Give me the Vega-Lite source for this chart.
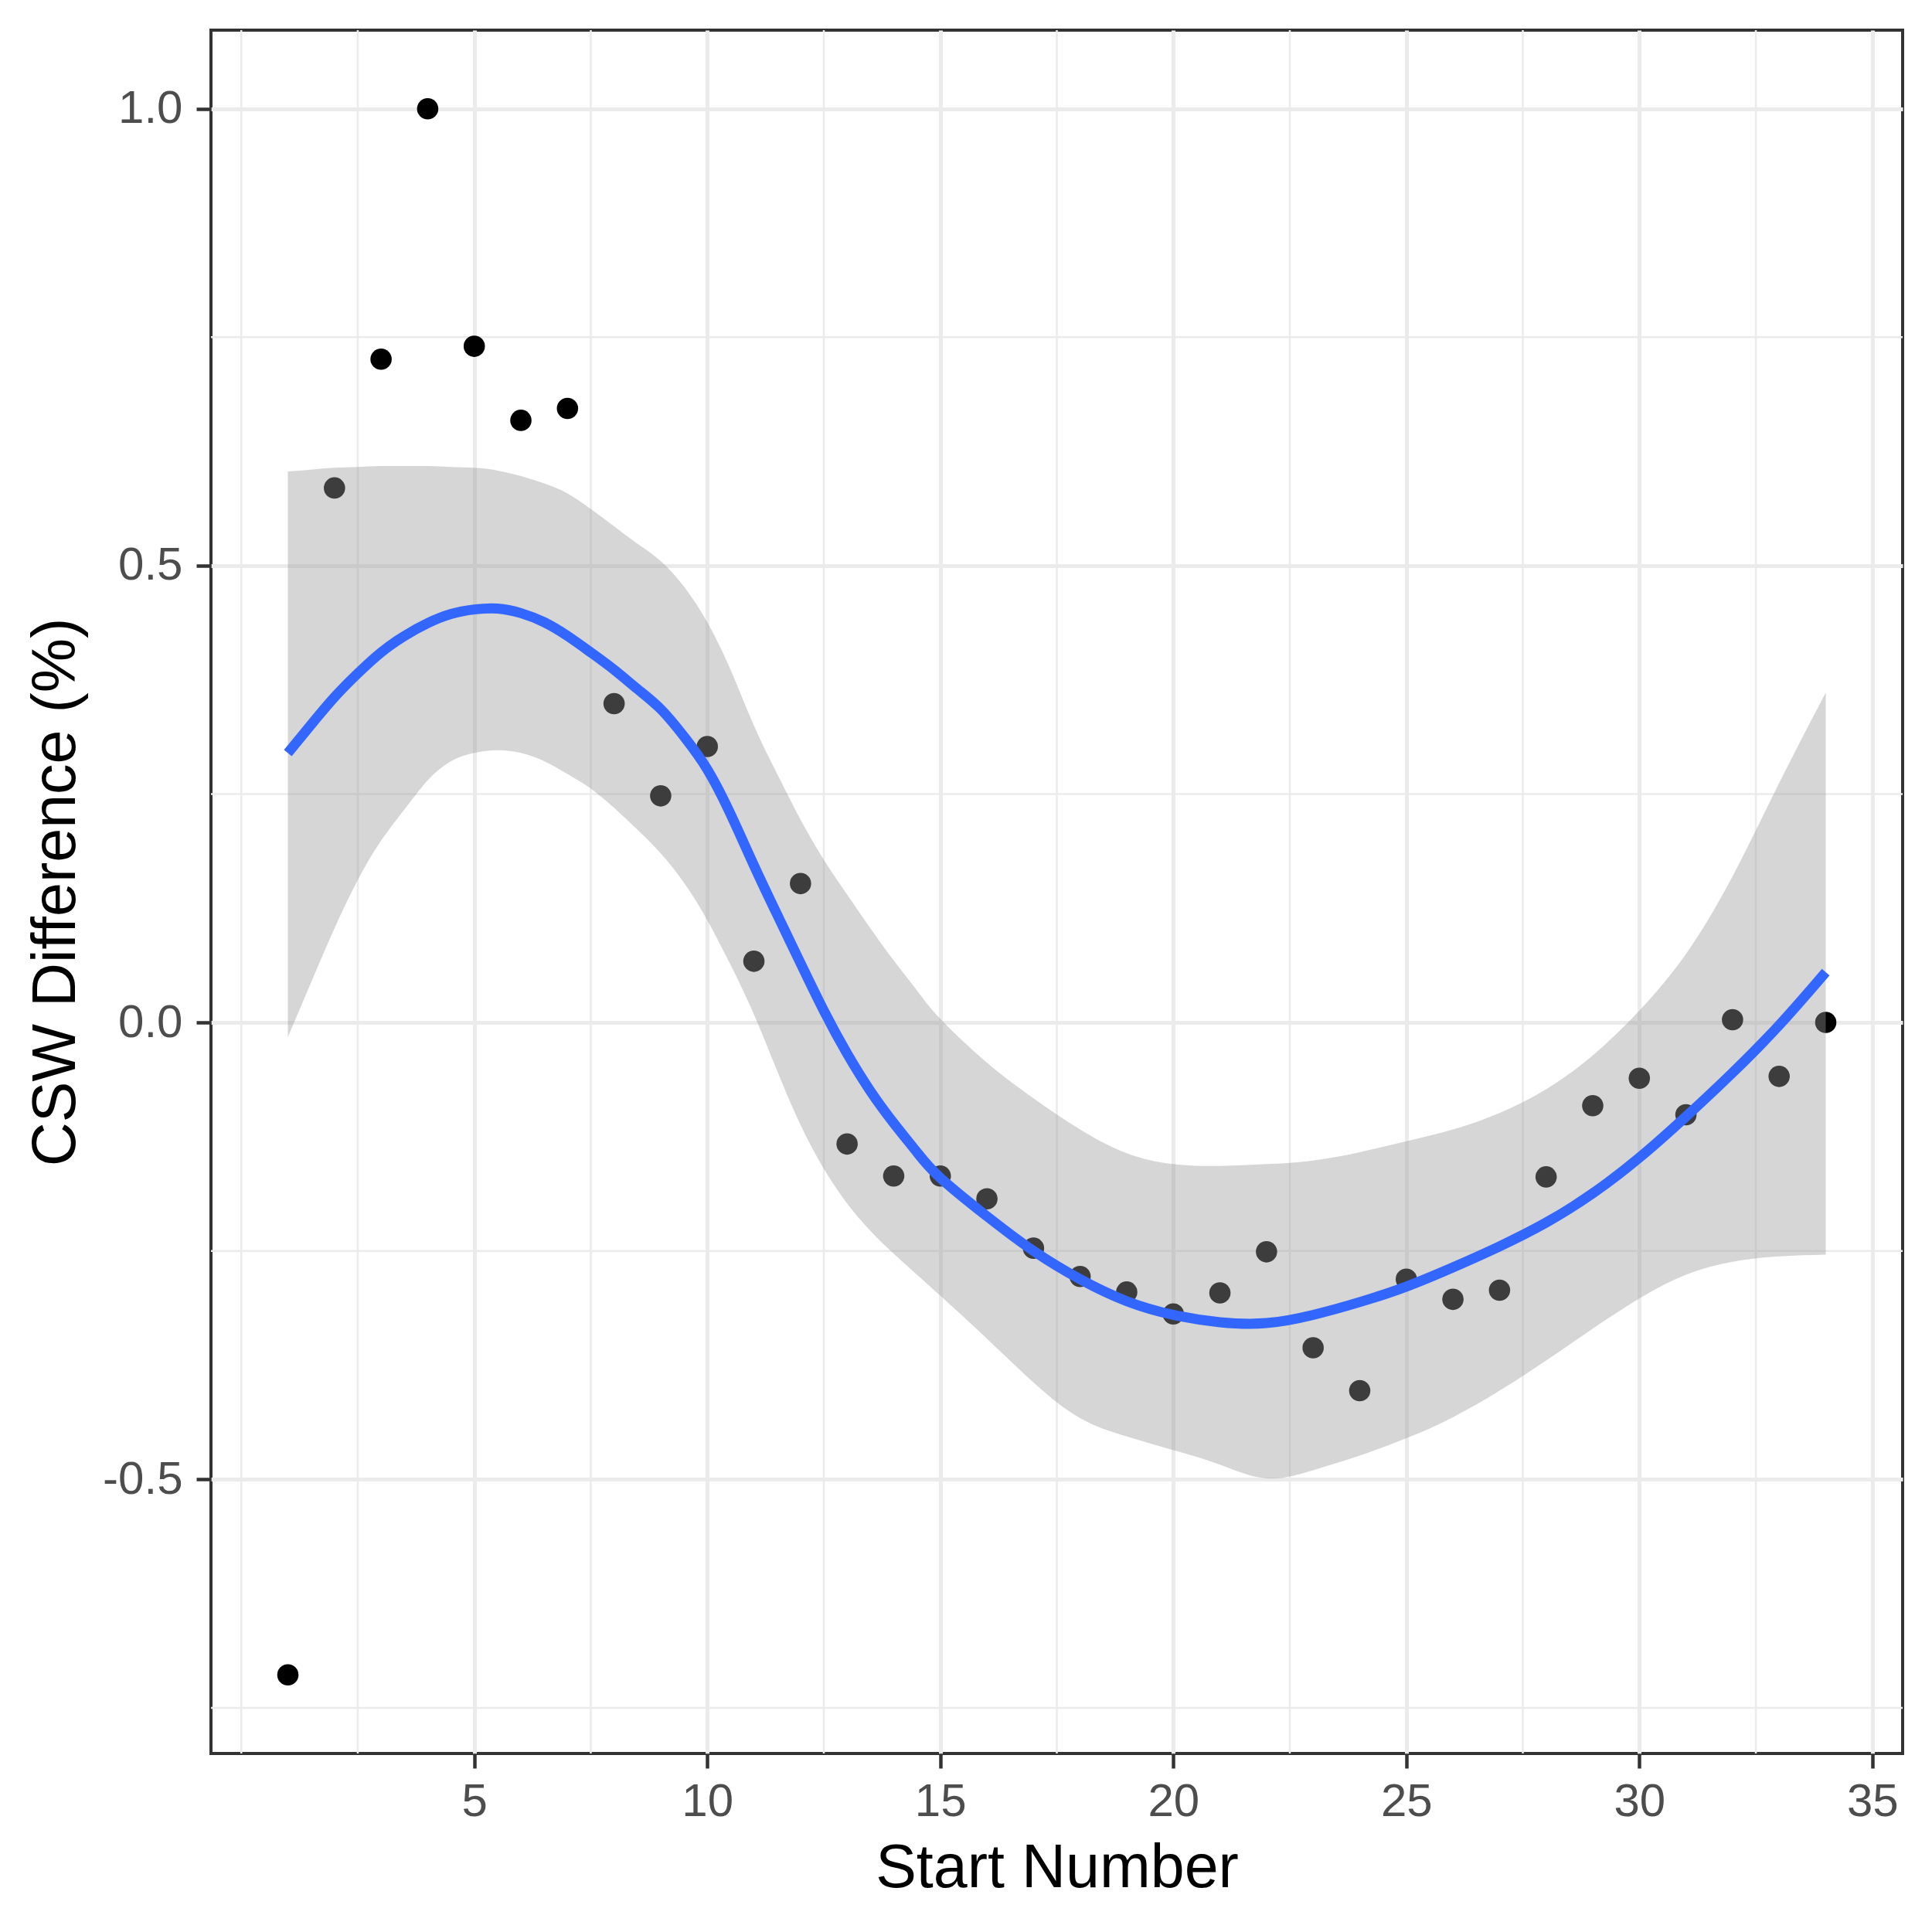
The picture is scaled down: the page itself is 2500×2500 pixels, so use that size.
{
  "$schema": "https://vega.github.io/schema/vega-lite/v6.json",
  "width": 2189,
  "height": 2230,
  "autosize": "none",
  "padding": {"left": 273, "top": 39, "right": 38, "bottom": 231},
  "background": "white",
  "config": {
    "font": "Liberation Sans",
    "view": {"stroke": "#333333", "strokeWidth": 4},
    "axis": {
      "grid": true,
      "gridColor": "#ebebeb",
      "gridWidth": 5,
      "domain": false,
      "tickColor": "#333333",
      "tickWidth": 4.5,
      "tickSize": 19,
      "labelFont": "Liberation Sans",
      "labelFontSize": 60,
      "labelColor": "#4d4d4d",
      "titleFont": "Liberation Sans",
      "titleFontSize": 79,
      "titleFontWeight": "normal",
      "titleColor": "#000000"
    }
  },
  "datasets": {
    "pts": [
      {"start": 1, "csw": -0.714}, {"start": 2, "csw": 0.585}, {"start": 3, "csw": 0.726},
      {"start": 4, "csw": 1.0}, {"start": 5, "csw": 0.74}, {"start": 6, "csw": 0.659},
      {"start": 7, "csw": 0.672}, {"start": 8, "csw": 0.349}, {"start": 9, "csw": 0.248},
      {"start": 10, "csw": 0.302}, {"start": 11, "csw": 0.067}, {"start": 12, "csw": 0.152},
      {"start": 13, "csw": -0.133}, {"start": 14, "csw": -0.168}, {"start": 15, "csw": -0.168},
      {"start": 16, "csw": -0.193}, {"start": 17, "csw": -0.247}, {"start": 18, "csw": -0.278},
      {"start": 19, "csw": -0.295}, {"start": 20, "csw": -0.319}, {"start": 21, "csw": -0.296},
      {"start": 22, "csw": -0.251}, {"start": 23, "csw": -0.356}, {"start": 24, "csw": -0.403},
      {"start": 25, "csw": -0.281}, {"start": 26, "csw": -0.303}, {"start": 27, "csw": -0.293},
      {"start": 28, "csw": -0.169}, {"start": 29, "csw": -0.091}, {"start": 30, "csw": -0.061},
      {"start": 31, "csw": -0.101}, {"start": 32, "csw": 0.003}, {"start": 33, "csw": -0.059},
      {"start": 34, "csw": 0.0}
    ],
    "fit": [
      {"start": 1, "fit": 0.295, "lower": -0.016, "upper": 0.603},
      {"start": 1.5, "fit": 0.326, "lower": 0.044, "upper": 0.605},
      {"start": 2, "fit": 0.356, "lower": 0.103, "upper": 0.607},
      {"start": 2.5, "fit": 0.382, "lower": 0.156, "upper": 0.608},
      {"start": 3, "fit": 0.405, "lower": 0.199, "upper": 0.609},
      {"start": 3.5, "fit": 0.423, "lower": 0.233, "upper": 0.609},
      {"start": 4, "fit": 0.437, "lower": 0.265, "upper": 0.609},
      {"start": 4.5, "fit": 0.447, "lower": 0.286, "upper": 0.608},
      {"start": 5, "fit": 0.452, "lower": 0.295, "upper": 0.607},
      {"start": 5.5, "fit": 0.453, "lower": 0.298, "upper": 0.604},
      {"start": 6, "fit": 0.448, "lower": 0.295, "upper": 0.598},
      {"start": 6.5, "fit": 0.438, "lower": 0.286, "upper": 0.59},
      {"start": 7, "fit": 0.423, "lower": 0.272, "upper": 0.579},
      {"start": 7.5, "fit": 0.405, "lower": 0.256, "upper": 0.562},
      {"start": 8, "fit": 0.386, "lower": 0.235, "upper": 0.543},
      {"start": 8.5, "fit": 0.365, "lower": 0.211, "upper": 0.524},
      {"start": 9, "fit": 0.343, "lower": 0.185, "upper": 0.505},
      {"start": 9.5, "fit": 0.313, "lower": 0.153, "upper": 0.477},
      {"start": 10, "fit": 0.277, "lower": 0.112, "upper": 0.438},
      {"start": 10.5, "fit": 0.228, "lower": 0.063, "upper": 0.386},
      {"start": 11, "fit": 0.172, "lower": 0.009, "upper": 0.325},
      {"start": 11.5, "fit": 0.118, "lower": -0.053, "upper": 0.272},
      {"start": 12, "fit": 0.065, "lower": -0.112, "upper": 0.222},
      {"start": 12.5, "fit": 0.013, "lower": -0.16, "upper": 0.178},
      {"start": 13, "fit": -0.034, "lower": -0.198, "upper": 0.14},
      {"start": 13.5, "fit": -0.075, "lower": -0.228, "upper": 0.103},
      {"start": 14, "fit": -0.11, "lower": -0.253, "upper": 0.068},
      {"start": 14.5, "fit": -0.142, "lower": -0.276, "upper": 0.035},
      {"start": 15, "fit": -0.17, "lower": -0.299, "upper": 0.004},
      {"start": 16, "fit": -0.212, "lower": -0.346, "upper": -0.044},
      {"start": 17, "fit": -0.25, "lower": -0.394, "upper": -0.083},
      {"start": 18, "fit": -0.281, "lower": -0.433, "upper": -0.117},
      {"start": 19, "fit": -0.305, "lower": -0.453, "upper": -0.143},
      {"start": 20, "fit": -0.32, "lower": -0.468, "upper": -0.155},
      {"start": 21, "fit": -0.328, "lower": -0.484, "upper": -0.157},
      {"start": 22, "fit": -0.329, "lower": -0.499, "upper": -0.155},
      {"start": 23, "fit": -0.32, "lower": -0.49, "upper": -0.151},
      {"start": 24, "fit": -0.306, "lower": -0.474, "upper": -0.142},
      {"start": 25, "fit": -0.289, "lower": -0.455, "upper": -0.13},
      {"start": 26, "fit": -0.268, "lower": -0.432, "upper": -0.117},
      {"start": 27, "fit": -0.245, "lower": -0.403, "upper": -0.099},
      {"start": 28, "fit": -0.219, "lower": -0.37, "upper": -0.073},
      {"start": 29, "fit": -0.187, "lower": -0.335, "upper": -0.036},
      {"start": 30, "fit": -0.148, "lower": -0.302, "upper": 0.013},
      {"start": 31, "fit": -0.103, "lower": -0.276, "upper": 0.075},
      {"start": 32, "fit": -0.055, "lower": -0.262, "upper": 0.16},
      {"start": 33, "fit": -0.003, "lower": -0.256, "upper": 0.262},
      {"start": 34, "fit": 0.055, "lower": -0.254, "upper": 0.361}
    ],
    "minorx": [
      {"start": 0}, {"start": 2.5}, {"start": 7.5}, {"start": 12.5},
      {"start": 17.5}, {"start": 22.5}, {"start": 27.5}, {"start": 32.5}
    ],
    "minory": [
      {"csw": -0.75}, {"csw": -0.25}, {"csw": 0.25}, {"csw": 0.75}
    ]
  },
  "layer": [
    {
      "data": {"name": "minorx"},
      "mark": {"type": "rule", "color": "#ebebeb", "strokeWidth": 2.5},
      "encoding": {
        "x": {
          "field": "start", "type": "quantitative", "title": "Start Number",
          "scale": {"domain": [-0.65, 35.65], "nice": false, "zero": false},
          "axis": {"values": [5, 10, 15, 20, 25, 30, 35], "format": "d", "labelPadding": 14, "titlePadding": 18}
        }
      }
    },
    {
      "data": {"name": "minory"},
      "mark": {"type": "rule", "color": "#ebebeb", "strokeWidth": 2.5},
      "encoding": {
        "y": {
          "field": "csw", "type": "quantitative", "title": "CSW Difference (%)",
          "scale": {"domain": [-0.8, 1.086], "nice": false, "zero": false},
          "axis": {
            "values": [-0.5, 0, 0.5, 1],
            "labelPadding": 18,
            "titlePadding": 19,
            "labelExpr": "replace(format(datum.value, '.1f'), '\u2212', '-')"
          }
        }
      }
    },
    {
      "data": {"name": "pts"},
      "mark": {"type": "circle", "size": 760, "color": "#000000", "opacity": 1},
      "encoding": {
        "x": {"field": "start", "type": "quantitative", "title": "Start Number"},
        "y": {"field": "csw", "type": "quantitative", "title": "CSW Difference (%)"}
      }
    },
    {
      "data": {"name": "fit"},
      "mark": {"type": "area", "color": "#999999", "opacity": 0.4, "interpolate": "natural"},
      "encoding": {
        "x": {"field": "start", "type": "quantitative", "title": "Start Number"},
        "y": {"field": "lower", "type": "quantitative", "title": "CSW Difference (%)"},
        "y2": {"field": "upper"}
      }
    },
    {
      "data": {"name": "fit"},
      "mark": {"type": "line", "color": "#3366FF", "strokeWidth": 13, "interpolate": "natural"},
      "encoding": {
        "x": {"field": "start", "type": "quantitative", "title": "Start Number"},
        "y": {"field": "fit", "type": "quantitative", "title": "CSW Difference (%)"}
      }
    }
  ]
}
